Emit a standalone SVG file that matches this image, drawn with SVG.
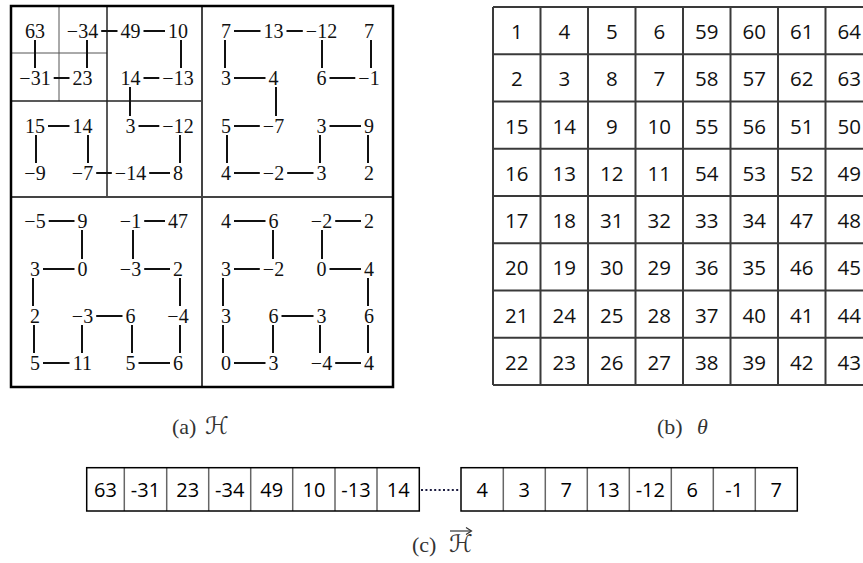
<svg xmlns="http://www.w3.org/2000/svg" width="863" height="563" viewBox="0 0 863 563">
<style>
.h{font-family:"Liberation Serif","Times New Roman",serif;font-size:20px;text-anchor:middle;fill:#111}
.t{font-family:"Open Sans","Liberation Sans",sans-serif;font-size:20.5px;text-anchor:middle;fill:#111}
.a{font-family:"Open Sans","Liberation Sans",sans-serif;font-size:20px;text-anchor:middle;fill:#000}
.con line{stroke:#111;stroke-width:2}
.cap{font-family:"Liberation Serif","DejaVu Serif","DejaVu Sans",serif;font-size:22px;fill:#333}
.scr{font-family:"DejaVu Serif","DejaVu Sans",serif;font-size:24px;fill:#333}
.g line{stroke:#3a3a3a;stroke-width:2}
</style>
<rect width="863" height="563" fill="#fff"/>

<!-- (a) H grid frame -->
<g id="h-frame" fill="none">
  <line x1="59" y1="6" x2="59" y2="101" stroke="#555" stroke-width="1"/>
  <line x1="11" y1="53" x2="107" y2="53" stroke="#555" stroke-width="1"/>
  <line x1="107" y1="6" x2="107" y2="197" stroke="#222" stroke-width="1.5"/>
  <line x1="11" y1="101" x2="202" y2="101" stroke="#222" stroke-width="1.5"/>
  <line x1="202" y1="6" x2="202" y2="387" stroke="#444" stroke-width="2"/>
  <line x1="11" y1="197" x2="393" y2="197" stroke="#444" stroke-width="2"/>
  <rect x="11" y="6" width="382" height="381" stroke="#000" stroke-width="2.5"/>
</g>

<g id="h-connectors" class="con">
  <line x1="53.7" y1="78" x2="69.5" y2="78"/>
  <line x1="101.2" y1="31" x2="117.5" y2="31"/>
  <line x1="143.5" y1="31" x2="165" y2="31"/>
  <line x1="143.5" y1="78" x2="159.3" y2="78"/>
  <line x1="138.5" y1="126" x2="159.3" y2="126"/>
  <line x1="149.2" y1="173" x2="170" y2="173"/>
  <line x1="96.2" y1="173" x2="111.8" y2="173"/>
  <line x1="48" y1="126" x2="69.5" y2="126"/>
  <line x1="234" y1="31" x2="260.5" y2="31"/>
  <line x1="286.5" y1="31" x2="302.8" y2="31"/>
  <line x1="329.5" y1="78" x2="355.3" y2="78"/>
  <line x1="234" y1="78" x2="265.5" y2="78"/>
  <line x1="234" y1="126" x2="259.8" y2="126"/>
  <line x1="234" y1="173" x2="259.8" y2="173"/>
  <line x1="287.2" y1="173" x2="313.5" y2="173"/>
  <line x1="329.5" y1="126" x2="361" y2="126"/>
  <line x1="48.7" y1="221" x2="74.5" y2="221"/>
  <line x1="43" y1="269" x2="74.5" y2="269"/>
  <line x1="43" y1="363" x2="69.5" y2="363"/>
  <line x1="96.2" y1="316" x2="122.5" y2="316"/>
  <line x1="138.5" y1="363" x2="170" y2="363"/>
  <line x1="144.2" y1="269" x2="170" y2="269"/>
  <line x1="144.2" y1="221" x2="165" y2="221"/>
  <line x1="234" y1="221" x2="265.5" y2="221"/>
  <line x1="234" y1="269" x2="259.8" y2="269"/>
  <line x1="234" y1="363" x2="265.5" y2="363"/>
  <line x1="281.5" y1="316" x2="313.5" y2="316"/>
  <line x1="335.2" y1="363" x2="361" y2="363"/>
  <line x1="329.5" y1="269" x2="361" y2="269"/>
  <line x1="335.2" y1="221" x2="361" y2="221"/>
  <line x1="35" y1="40" x2="35" y2="68"/>
  <line x1="87" y1="40" x2="87" y2="68"/>
  <line x1="181" y1="40" x2="181" y2="68"/>
  <line x1="130" y1="87" x2="130" y2="116"/>
  <line x1="180" y1="135" x2="180" y2="163"/>
  <line x1="88" y1="135" x2="88" y2="163"/>
  <line x1="36" y1="135" x2="36" y2="163"/>
  <line x1="225" y1="40" x2="225" y2="68"/>
  <line x1="322" y1="40" x2="322" y2="68"/>
  <line x1="371" y1="40" x2="371" y2="68"/>
  <line x1="276" y1="87" x2="276" y2="116"/>
  <line x1="227" y1="135" x2="227" y2="163"/>
  <line x1="320" y1="135" x2="320" y2="163"/>
  <line x1="368" y1="135" x2="368" y2="163"/>
  <line x1="82" y1="230" x2="82" y2="259"/>
  <line x1="133" y1="230" x2="133" y2="259"/>
  <line x1="33" y1="278" x2="33" y2="306"/>
  <line x1="180" y1="278" x2="180" y2="306"/>
  <line x1="34" y1="325" x2="34" y2="353"/>
  <line x1="82" y1="325" x2="82" y2="353"/>
  <line x1="132" y1="325" x2="132" y2="353"/>
  <line x1="180" y1="325" x2="180" y2="353"/>
  <line x1="273" y1="230" x2="273" y2="259"/>
  <line x1="322" y1="230" x2="322" y2="259"/>
  <line x1="223" y1="278" x2="223" y2="306"/>
  <line x1="368" y1="278" x2="368" y2="306"/>
  <line x1="223" y1="325" x2="223" y2="353"/>
  <line x1="273" y1="325" x2="273" y2="353"/>
  <line x1="320" y1="325" x2="320" y2="353"/>
  <line x1="368" y1="325" x2="368" y2="353"/>
</g>

<g id="h-nodes" class="h">
  <g id="h00"><text x="35" y="38">63</text></g>
  <g id="h01"><text x="82.5" y="38">−34</text></g>
  <g id="h02"><text x="130.5" y="38">49</text></g>
  <g id="h03"><text x="178" y="38">10</text></g>
  <g id="h04"><text x="226" y="38">7</text></g>
  <g id="h05"><text x="273.5" y="38">13</text></g>
  <g id="h06"><text x="321.5" y="38">−12</text></g>
  <g id="h07"><text x="369" y="38">7</text></g>
  <g id="h10"><text x="35" y="85">−31</text></g>
  <g id="h11"><text x="82.5" y="85">23</text></g>
  <g id="h12"><text x="130.5" y="85">14</text></g>
  <g id="h13"><text x="178" y="85">−13</text></g>
  <g id="h14"><text x="226" y="85">3</text></g>
  <g id="h15"><text x="273.5" y="85">4</text></g>
  <g id="h16"><text x="321.5" y="85">6</text></g>
  <g id="h17"><text x="369" y="85">−1</text></g>
  <g id="h20"><text x="35" y="133">15</text></g>
  <g id="h21"><text x="82.5" y="133">14</text></g>
  <g id="h22"><text x="130.5" y="133">3</text></g>
  <g id="h23"><text x="178" y="133">−12</text></g>
  <g id="h24"><text x="226" y="133">5</text></g>
  <g id="h25"><text x="273.5" y="133">−7</text></g>
  <g id="h26"><text x="321.5" y="133">3</text></g>
  <g id="h27"><text x="369" y="133">9</text></g>
  <g id="h30"><text x="35" y="180">−9</text></g>
  <g id="h31"><text x="82.5" y="180">−7</text></g>
  <g id="h32"><text x="130.5" y="180">−14</text></g>
  <g id="h33"><text x="178" y="180">8</text></g>
  <g id="h34"><text x="226" y="180">4</text></g>
  <g id="h35"><text x="273.5" y="180">−2</text></g>
  <g id="h36"><text x="321.5" y="180">3</text></g>
  <g id="h37"><text x="369" y="180">2</text></g>
  <g id="h40"><text x="35" y="228">−5</text></g>
  <g id="h41"><text x="82.5" y="228">9</text></g>
  <g id="h42"><text x="130.5" y="228">−1</text></g>
  <g id="h43"><text x="178" y="228">47</text></g>
  <g id="h44"><text x="226" y="228">4</text></g>
  <g id="h45"><text x="273.5" y="228">6</text></g>
  <g id="h46"><text x="321.5" y="228">−2</text></g>
  <g id="h47"><text x="369" y="228">2</text></g>
  <g id="h50"><text x="35" y="276">3</text></g>
  <g id="h51"><text x="82.5" y="276">0</text></g>
  <g id="h52"><text x="130.5" y="276">−3</text></g>
  <g id="h53"><text x="178" y="276">2</text></g>
  <g id="h54"><text x="226" y="276">3</text></g>
  <g id="h55"><text x="273.5" y="276">−2</text></g>
  <g id="h56"><text x="321.5" y="276">0</text></g>
  <g id="h57"><text x="369" y="276">4</text></g>
  <g id="h60"><text x="35" y="323">2</text></g>
  <g id="h61"><text x="82.5" y="323">−3</text></g>
  <g id="h62"><text x="130.5" y="323">6</text></g>
  <g id="h63"><text x="178" y="323">−4</text></g>
  <g id="h64"><text x="226" y="323">3</text></g>
  <g id="h65"><text x="273.5" y="323">6</text></g>
  <g id="h66"><text x="321.5" y="323">3</text></g>
  <g id="h67"><text x="369" y="323">6</text></g>
  <g id="h70"><text x="35" y="370">5</text></g>
  <g id="h71"><text x="82.5" y="370">11</text></g>
  <g id="h72"><text x="130.5" y="370">5</text></g>
  <g id="h73"><text x="178" y="370">6</text></g>
  <g id="h74"><text x="226" y="370">0</text></g>
  <g id="h75"><text x="273.5" y="370">3</text></g>
  <g id="h76"><text x="321.5" y="370">−4</text></g>
  <g id="h77"><text x="369" y="370">4</text></g>
</g>

<!-- (b) theta grid -->
<g id="theta-grid" class="g">
  <line x1="493" y1="7" x2="863" y2="7"/>
  <line x1="493" y1="54.25" x2="863" y2="54.25"/>
  <line x1="493" y1="101.5" x2="863" y2="101.5"/>
  <line x1="493" y1="148.75" x2="863" y2="148.75"/>
  <line x1="493" y1="196" x2="863" y2="196"/>
  <line x1="493" y1="243.25" x2="863" y2="243.25"/>
  <line x1="493" y1="290.5" x2="863" y2="290.5"/>
  <line x1="493" y1="337.75" x2="863" y2="337.75"/>
  <line x1="493" y1="385" x2="863" y2="385"/>
  <line x1="493" y1="7" x2="493" y2="385"/>
  <line x1="540.5" y1="7" x2="540.5" y2="385"/>
  <line x1="588" y1="7" x2="588" y2="385"/>
  <line x1="635.5" y1="7" x2="635.5" y2="385"/>
  <line x1="683" y1="7" x2="683" y2="385"/>
  <line x1="730.5" y1="7" x2="730.5" y2="385"/>
  <line x1="778" y1="7" x2="778" y2="385"/>
  <line x1="825.5" y1="7" x2="825.5" y2="385"/>
</g>
<g id="theta-values" class="t">
  <text x="516.8" y="39">1</text><text x="564.3" y="39">4</text><text x="611.8" y="39">5</text><text x="659.3" y="39">6</text><text x="706.8" y="39">59</text><text x="754.3" y="39">60</text><text x="801.8" y="39">61</text><text x="849.3" y="39">64</text>
  <text x="516.8" y="86.4">2</text><text x="564.3" y="86.4">3</text><text x="611.8" y="86.4">8</text><text x="659.3" y="86.4">7</text><text x="706.8" y="86.4">58</text><text x="754.3" y="86.4">57</text><text x="801.8" y="86.4">62</text><text x="849.3" y="86.4">63</text>
  <text x="516.8" y="133.6">15</text><text x="564.3" y="133.6">14</text><text x="611.8" y="133.6">9</text><text x="659.3" y="133.6">10</text><text x="706.8" y="133.6">55</text><text x="754.3" y="133.6">56</text><text x="801.8" y="133.6">51</text><text x="849.3" y="133.6">50</text>
  <text x="516.8" y="180.9">16</text><text x="564.3" y="180.9">13</text><text x="611.8" y="180.9">12</text><text x="659.3" y="180.9">11</text><text x="706.8" y="180.9">54</text><text x="754.3" y="180.9">53</text><text x="801.8" y="180.9">52</text><text x="849.3" y="180.9">49</text>
  <text x="516.8" y="228.1">17</text><text x="564.3" y="228.1">18</text><text x="611.8" y="228.1">31</text><text x="659.3" y="228.1">32</text><text x="706.8" y="228.1">33</text><text x="754.3" y="228.1">34</text><text x="801.8" y="228.1">47</text><text x="849.3" y="228.1">48</text>
  <text x="516.8" y="275.4">20</text><text x="564.3" y="275.4">19</text><text x="611.8" y="275.4">30</text><text x="659.3" y="275.4">29</text><text x="706.8" y="275.4">36</text><text x="754.3" y="275.4">35</text><text x="801.8" y="275.4">46</text><text x="849.3" y="275.4">45</text>
  <text x="516.8" y="322.6">21</text><text x="564.3" y="322.6">24</text><text x="611.8" y="322.6">25</text><text x="659.3" y="322.6">28</text><text x="706.8" y="322.6">37</text><text x="754.3" y="322.6">40</text><text x="801.8" y="322.6">41</text><text x="849.3" y="322.6">44</text>
  <text x="516.8" y="369.9">22</text><text x="564.3" y="369.9">23</text><text x="611.8" y="369.9">26</text><text x="659.3" y="369.9">27</text><text x="706.8" y="369.9">38</text><text x="754.3" y="369.9">39</text><text x="801.8" y="369.9">42</text><text x="849.3" y="369.9">43</text>
</g>

<!-- captions -->
<g id="caption-a"><text class="cap" x="172" y="434">(a)</text><text class="scr" x="205" y="434">ℋ</text></g>
<g id="caption-b"><text class="cap" x="657" y="434">(b)</text><text class="cap" x="697" y="434" font-style="italic">θ</text></g>

<!-- (c) vector -->
<g id="vector-1">
  <g stroke="#666" stroke-width="1.5">
    <line x1="124.3" y1="467.7" x2="124.3" y2="511"/>
    <line x1="166.7" y1="467.7" x2="166.7" y2="511"/>
    <line x1="208.7" y1="467.7" x2="208.7" y2="511"/>
    <line x1="250.7" y1="467.7" x2="250.7" y2="511"/>
    <line x1="292.7" y1="467.7" x2="292.7" y2="511"/>
    <line x1="335" y1="467.7" x2="335" y2="511"/>
    <line x1="377" y1="467.7" x2="377" y2="511"/>
  </g>
  <rect x="86.7" y="467.7" width="332.6" height="43.3" fill="none" stroke="#000" stroke-width="1.5"/>
  <g class="a">
    <text x="105.5" y="497">63</text><text x="145.5" y="497">-31</text><text x="187.7" y="497">23</text><text x="229.7" y="497">-34</text><text x="271.7" y="497">49</text><text x="313.9" y="497">10</text><text x="356" y="497">-13</text><text x="398.2" y="497">14</text>
  </g>
</g>
<g id="vector-dots"><line x1="421" y1="490" x2="460" y2="490" stroke="#1c1c40" stroke-width="2" stroke-dasharray="2 2.4"/></g>
<g id="vector-2">
  <g stroke="#666" stroke-width="1.5">
    <line x1="503.3" y1="467.7" x2="503.3" y2="511"/>
    <line x1="545.3" y1="467.7" x2="545.3" y2="511"/>
    <line x1="587.3" y1="467.7" x2="587.3" y2="511"/>
    <line x1="629.3" y1="467.7" x2="629.3" y2="511"/>
    <line x1="671.3" y1="467.7" x2="671.3" y2="511"/>
    <line x1="713.3" y1="467.7" x2="713.3" y2="511"/>
    <line x1="755.3" y1="467.7" x2="755.3" y2="511"/>
  </g>
  <rect x="461" y="467.7" width="336.3" height="43.3" fill="none" stroke="#000" stroke-width="1.5"/>
  <g class="a">
    <text x="482.2" y="497">4</text><text x="524.3" y="497">3</text><text x="566.3" y="497">7</text><text x="608.3" y="497">13</text><text x="650.3" y="497">-12</text><text x="692.3" y="497">6</text><text x="734.3" y="497">-1</text><text x="776.3" y="497">7</text>
  </g>
</g>
<g id="caption-c">
  <text class="cap" x="412" y="552">(c)</text><text class="scr" x="449" y="552">ℋ</text>
  <line x1="450" y1="531" x2="471" y2="531" stroke="#333" stroke-width="1.2"/>
  <polyline points="466,527.5 471.5,531 466,534.5" fill="none" stroke="#333" stroke-width="1.2"/>
</g>
</svg>
